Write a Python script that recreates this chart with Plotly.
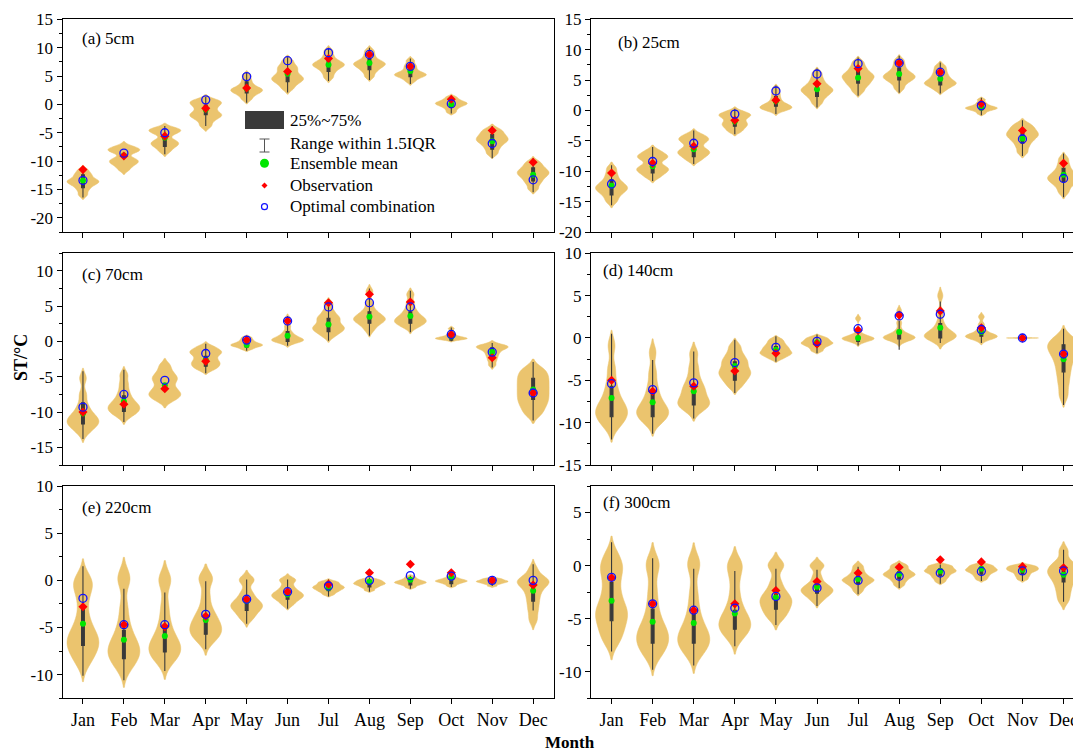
import plotly.graph_objects as go
import numpy as np

# ---------------- data ----------------
months = ["Jan", "Feb", "Mar", "Apr", "May", "Jun", "Jul", "Aug", "Sep", "Oct", "Nov", "Dec"]
month_pos = list(range(1, 13))
panel_titles = ["(a) 5cm", "(b) 25cm", "(c) 70cm", "(d) 140cm", "(e) 220cm", "(f) 300cm"]

# ensemble members (shape of each violin)
samples_a = [
    [-15.95, -15.1, -14.5, -14.1, -13.8, -13.6, -13.4, -13.1, -12.6, -12.2, -11.55],
    [-11.5, -10.8, -10.4, -10.1, -9.8, -9.5, -8.6, -8.2, -8.0, -7.8, -7.4],
    [-8.3, -7.6, -7.2, -6.9, -6.6, -6.2, -5.3, -4.9, -4.6, -4.4, -4.2],
    [-3.8, -2.9, -2.3, -2.0, -1.7, -1.3, -0.7, -0.2, 0.2, 0.5, 0.8],
    [0.85, 1.5, 1.9, 2.2, 2.4, 2.6, 2.8, 3.1, 3.6, 4.3, 5.15],
    [2.75, 3.5, 4.0, 4.3, 4.6, 4.9, 5.3, 5.9, 6.4, 6.9, 7.75],
    [4.7, 5.5, 6.1, 6.5, 6.8, 7.0, 7.2, 7.5, 7.9, 8.6, 9.5],
    [4.9, 5.7, 6.2, 6.6, 6.9, 7.1, 7.3, 7.6, 8.0, 8.7, 9.5],
    [4.05, 4.6, 4.9, 5.1, 5.25, 5.4, 5.6, 6.0, 6.5, 7.0, 7.75],
    [-1.4, -0.9, -0.5, -0.25, -0.05, 0.1, 0.25, 0.4, 0.6, 0.9, 1.3],
    [-8.7, -7.9, -7.3, -6.8, -6.5, -6.2, -5.9, -5.6, -5.2, -4.8, -4.3],
    [-14.9, -14.0, -13.4, -12.9, -12.5, -12.2, -11.9, -11.6, -11.2, -10.7, -10.1],
]
samples_b = [
    [-15.0, -14.2, -13.6, -13.2, -12.9, -12.6, -12.3, -11.9, -11.3, -10.5, -9.5],
    [-11.0, -10.4, -10.0, -9.7, -9.4, -9.0, -8.2, -7.8, -7.5, -7.2, -6.6],
    [-8.2, -7.6, -7.2, -6.9, -6.6, -6.2, -5.5, -5.0, -4.7, -4.4, -3.9],
    [-3.5, -3.0, -2.6, -2.3, -2.0, -1.6, -1.2, -0.9, -0.7, -0.5, -0.1],
    [-0.1, 0.2, 0.35, 0.5, 0.65, 0.85, 1.1, 1.5, 2.1, 2.8, 3.6],
    [1.2, 2.0, 2.5, 2.9, 3.2, 3.45, 3.7, 4.1, 4.6, 5.3, 6.2],
    [3.1, 3.9, 4.4, 4.8, 5.2, 5.5, 5.8, 6.1, 6.6, 7.2, 8.0],
    [3.6, 4.4, 4.9, 5.2, 5.45, 5.7, 5.95, 6.3, 6.8, 7.5, 8.3],
    [3.35, 3.9, 4.2, 4.4, 4.6, 4.85, 5.2, 5.6, 6.1, 6.7, 7.35],
    [-0.5, -0.1, 0.1, 0.25, 0.35, 0.45, 0.55, 0.7, 0.95, 1.3, 1.8],
    [-6.9, -6.0, -5.3, -4.8, -4.4, -4.1, -3.8, -3.5, -3.1, -2.7, -2.2],
    [-13.5, -12.6, -12.0, -11.6, -11.3, -11.0, -10.7, -10.3, -9.7, -8.9, -7.9],
]
samples_c = [
    [-12.9, -12.2, -11.8, -11.5, -11.2, -10.9, -10.5, -9.9, -9.0, -7.5, -5.2],
    [-10.6, -10.1, -9.8, -9.5, -9.2, -8.9, -8.5, -7.9, -7.1, -6.0, -4.7],
    [-8.4, -7.9, -7.6, -7.3, -6.9, -6.4, -5.7, -5.3, -4.9, -4.3, -3.4],
    [-4.0, -3.6, -3.3, -3.0, -2.7, -2.3, -1.9, -1.6, -1.4, -1.1, -0.7],
    [-1.1, -0.85, -0.7, -0.6, -0.5, -0.4, -0.3, -0.15, 0.05, 0.3, 0.6],
    [-0.15, 0.0, 0.1, 0.2, 0.3, 0.45, 0.65, 0.95, 1.4, 2.2, 3.25],
    [0.75, 1.3, 1.6, 1.85, 2.1, 2.4, 2.9, 3.3, 3.6, 4.3, 5.35],
    [1.6, 2.3, 2.7, 2.95, 3.15, 3.35, 3.6, 3.95, 4.5, 5.5, 7.1],
    [2.0, 2.4, 2.65, 2.85, 3.05, 3.3, 3.6, 4.0, 4.6, 5.5, 6.7],
    [0.25, 0.32, 0.38, 0.43, 0.48, 0.55, 0.65, 0.8, 1.05, 1.4, 1.85],
    [-3.35, -2.7, -2.2, -1.8, -1.45, -1.15, -0.95, -0.8, -0.7, -0.6, -0.45],
    [-10.3, -9.4, -8.7, -8.1, -7.5, -6.9, -6.3, -5.7, -5.1, -4.5, -3.8],
]
samples_d = [
    [-10.5, -9.8, -9.3, -8.9, -8.5, -8.1, -7.5, -6.6, -5.4, -3.6, -0.9],
    [-10.0, -9.5, -9.1, -8.8, -8.5, -8.1, -7.5, -6.7, -5.6, -4.0, -1.7],
    [-8.5, -8.1, -7.8, -7.5, -7.1, -6.5, -6.0, -5.5, -4.6, -3.4, -1.8],
    [-5.75, -5.1, -4.7, -4.3, -4.0, -3.7, -3.2, -2.8, -2.4, -1.8, -0.95],
    [-2.45, -2.15, -1.95, -1.8, -1.65, -1.45, -1.25, -1.05, -0.8, -0.5, -0.15],
    [-1.55, -1.25, -1.0, -0.85, -0.7, -0.6, -0.5, -0.35, -0.2, -0.05, 0.15],
    [-0.5, -0.3, -0.2, -0.12, -0.05, 0.0, 0.07, 0.2, 0.45, 1.0, 2.3],
    [-0.35, -0.15, -0.05, 0.02, 0.08, 0.15, 0.25, 0.45, 0.9, 1.8, 3.2],
    [-0.3, -0.05, 0.1, 0.2, 0.3, 0.45, 0.7, 1.1, 1.8, 3.0, 5.0],
    [-0.3, -0.05, 0.08, 0.15, 0.22, 0.3, 0.42, 0.65, 1.0, 1.6, 2.5],
    [-0.12, -0.07, -0.04, -0.02, -0.01, 0.0, 0.01, 0.02, 0.04, 0.07, 0.12],
    [-6.8, -5.4, -4.3, -3.4, -2.6, -2.0, -1.5, -1.1, -0.8, -0.4, 0.1],
]
samples_e = [
    [-8.8, -8.0, -7.4, -6.9, -6.5, -6.1, -5.6, -4.9, -3.8, -2.2, -0.8, -0.4, 0.35],
    [-9.3, -8.6, -8.1, -7.7, -7.3, -6.9, -6.4, -5.6, -4.5, -2.8, 0.0, 0.4],
    [-8.6, -8.1, -7.7, -7.3, -7.0, -6.6, -6.1, -5.3, -4.2, -2.6, -0.1, 0.2],
    [-6.5, -6.0, -5.6, -5.3, -5.0, -4.6, -4.1, -3.7, -2.9, -1.6, 0.1, 0.3],
    [-4.1, -3.6, -3.2, -2.9, -2.7, -2.5, -2.2, -1.8, -1.2, -0.1, 0.2],
    [-2.6, -2.2, -1.95, -1.75, -1.6, -1.45, -1.25, -1.0, -0.6, -0.05, 0.15],
    [-1.5, -1.25, -1.1, -0.95, -0.85, -0.75, -0.65, -0.55, -0.4, -0.25, -0.1],
    [-1.05, -0.8, -0.65, -0.52, -0.42, -0.35, -0.27, -0.18, -0.08, 0.02, 0.15],
    [-0.75, -0.55, -0.42, -0.33, -0.26, -0.2, -0.13, -0.05, 0.05, 0.2, 0.4],
    [-0.6, -0.4, -0.28, -0.19, -0.12, -0.07, -0.01, 0.06, 0.15, 0.28, 0.5],
    [-0.6, -0.42, -0.32, -0.24, -0.18, -0.13, -0.08, -0.02, 0.05, 0.13, 0.22],
    [-4.2, -3.2, -2.4, -1.7, -1.1, -0.6, -0.3, -0.1, 0.05, 0.3, 1.2],
]
samples_f = [
    [-7.2, -6.5, -5.8, -5.2, -4.7, -4.3, -3.8, -3.1, -2.2, -1.2, -0.3, 0.1, 1.1],
    [-8.5, -7.9, -7.4, -7.0, -6.6, -6.2, -5.7, -4.9, -3.7, -2.2, -0.1, 0.3],
    [-8.3, -7.8, -7.4, -7.0, -6.7, -6.3, -5.8, -5.0, -3.9, -2.4, 0.0, 0.3],
    [-6.8, -6.3, -5.9, -5.6, -5.3, -4.9, -4.4, -3.7, -2.6, -1.2, -0.05, 0.25],
    [-5.0, -4.5, -4.1, -3.7, -3.4, -3.1, -2.8, -2.3, -1.5, -0.1, 0.2],
    [-3.3, -2.9, -2.65, -2.45, -2.3, -2.15, -1.95, -1.6, -1.0, -0.1, 0.1],
    [-2.4, -2.0, -1.75, -1.55, -1.42, -1.32, -1.2, -1.0, -0.75, -0.4, 0.0],
    [-1.85, -1.5, -1.25, -1.05, -0.92, -0.82, -0.7, -0.55, -0.35, -0.1, 0.1],
    [-1.5, -1.2, -1.0, -0.8, -0.65, -0.55, -0.45, -0.35, -0.2, -0.05, 0.05],
    [-1.3, -1.05, -0.85, -0.68, -0.55, -0.46, -0.37, -0.27, -0.15, -0.02, 0.1],
    [-1.3, -1.05, -0.85, -0.66, -0.52, -0.42, -0.34, -0.25, -0.15, -0.05, 0.03],
    [-3.3, -2.6, -2.0, -1.5, -1.1, -0.8, -0.55, -0.3, 0.0, 0.4, 1.4],
]

# box statistics: 25% / 75% and whisker ends (range within 1.5IQR)
q3_a = [-12.4, -9.1, -5.6, -0.1, 4.0, 5.5, 7.8, 8.1, 6.4, 0.5, -5.3, -11.2]
q1_a = [-14.7, -11.2, -7.4, -1.8, 2.0, 4.0, 5.8, 6.1, 4.9, -0.5, -7.9, -13.5]
lo_a = [-16.4, -12.0, -8.8, -3.8, 0.3, 2.1, 4.1, 4.3, 3.6, -1.6, -9.5, -15.5]
hi_a = [-11.0, -7.0, -3.8, 1.3, 5.6, 8.3, 10.0, 10.0, 8.1, 1.5, -3.8, -9.5]

q3_b = [-11.4, -8.7, -5.9, -1.3, 2.3, 4.2, 6.4, 7.0, 6.1, 1.1, -3.7, -9.5]
q1_b = [-13.9, -10.3, -7.6, -2.6, 0.7, 2.3, 4.5, 5.0, 4.2, 0.1, -5.4, -11.7]
lo_b = [-15.6, -11.6, -8.8, -3.9, -0.6, 0.5, 2.4, 2.9, 2.8, -0.8, -7.5, -14.3]
hi_b = [-9.0, -6.0, -3.3, 0.3, 4.1, 6.9, 8.7, 9.0, 7.9, 2.1, -1.6, -7.1]

q3_c = [-8.7, -7.7, -6.3, -2.1, 0.1, 1.4, 3.3, 4.2, 4.2, 0.9, -0.9, -5.2]
q1_c = [-11.7, -9.9, -7.7, -3.5, -0.8, 0.0, 1.4, 2.6, 2.6, 0.2, -2.1, -8.2]
lo_c = [-13.8, -11.4, -9.1, -4.5, -1.3, -0.6, 0.1, 0.8, 1.3, 0.05, -3.7, -11.2]
hi_c = [-4.2, -4.0, -2.7, -0.3, 0.8, 3.6, 6.0, 7.5, 7.2, 2.0, -0.2, -2.9]

q3_d = [-5.7, -6.3, -5.7, -2.8, -1.0, -0.4, 0.2, 0.9, 1.7, 0.7, 0.05, -0.8]
q1_d = [-9.3, -9.3, -7.9, -5.0, -1.8, -1.0, -0.4, -0.1, 0.0, 0.2, -0.05, -4.0]
lo_d = [-12.0, -11.3, -9.5, -6.5, -2.8, -1.8, -0.9, -1.4, -0.6, -0.6, -0.1, -7.9]
hi_d = [0.5, -2.6, -1.6, -0.2, 0.2, 0.4, 0.8, 2.0, 4.3, 1.5, 0.1, 1.1]

q3_e = [-2.9, -5.3, -5.0, -3.9, -1.8, -1.1, -0.4, 0.0, 0.1, 0.3, 0.1, -0.6]
q1_e = [-6.9, -8.3, -7.6, -5.7, -3.2, -2.0, -1.1, -0.7, -0.5, -0.35, -0.2, -2.2]
lo_e = [-10.1, -10.6, -9.6, -7.3, -4.6, -3.0, -1.7, -1.2, -0.9, -0.7, -0.6, -3.2]
hi_e = [1.5, -0.9, -1.3, -0.1, 0.1, 0.1, 0.1, 0.3, 0.5, 0.5, 0.2, 1.7]

q3_f = [-1.6, -4.1, -4.4, -4.2, -2.7, -1.7, -1.0, -0.55, -0.3, -0.15, -0.2, -0.5]
q1_f = [-5.2, -7.3, -7.3, -6.0, -4.1, -2.6, -1.7, -1.25, -0.95, -0.8, -0.8, -1.55]
lo_f = [-8.1, -9.8, -9.4, -7.6, -5.6, -3.8, -2.7, -2.1, -1.7, -1.45, -1.45, -3.4]
hi_f = [2.2, 0.7, -0.3, -0.5, -0.3, -0.4, -0.1, 0.2, 0.1, 0.1, 0.0, 1.5]

# ensemble mean / observation / optimal combination
mean_a = [-13.4, -9.0, -5.9, -0.9, 2.8, 5.4, 7.0, 7.3, 5.9, 0.0, -6.5, -12.4]
obs_a = [-11.5, -9.1, -5.6, -0.7, 2.9, 5.8, 8.1, 8.8, 6.7, 0.9, -4.6, -10.2]
opt_a = [-13.4, -8.6, -5.0, 0.8, 4.9, 7.7, 9.1, 8.8, 6.7, 0.1, -6.9, -13.3]

mean_b = [-12.4, -9.2, -6.4, -1.8, 1.5, 3.5, 5.4, 6.0, 5.2, 0.5, -4.6, -10.6]
obs_b = [-10.3, -8.7, -5.9, -1.6, 1.7, 4.4, 6.9, 7.8, 6.3, 1.1, -3.3, -8.7]
opt_b = [-12.1, -8.4, -5.4, -0.6, 3.2, 6.0, 7.7, 7.8, 6.3, 0.8, -4.7, -11.2]

mean_c = [-10.2, -8.5, -6.2, -2.6, -0.5, 0.8, 2.4, 3.5, 3.6, 0.7, -1.5, -6.8]
obs_c = [-10.0, -8.9, -6.7, -2.8, 0.2, 2.9, 5.5, 6.7, 5.6, 1.0, -2.3, -7.3]
opt_c = [-9.3, -7.5, -5.5, -1.7, 0.2, 2.9, 4.9, 5.5, 4.9, 1.0, -1.5, -7.3]

mean_d = [-7.1, -7.6, -6.3, -3.3, -1.4, -0.5, 0.0, 0.7, 1.2, 0.7, 0.0, -2.5]
obs_d = [-5.0, -6.3, -5.7, -3.9, -1.8, -0.7, 0.9, 2.7, 3.2, 1.2, 0.0, -1.9]
opt_d = [-5.4, -6.1, -5.3, -2.9, -1.1, -0.4, 1.1, 2.6, 2.8, 1.0, 0.0, -1.9]

mean_e = [-4.6, -6.3, -5.9, -4.2, -2.2, -1.5, -0.8, -0.15, 0.07, 0.3, -0.05, -1.1]
obs_e = [-2.8, -4.7, -4.9, -3.8, -2.0, -1.2, -0.4, 0.8, 1.7, 0.8, 0.0, -0.5]
opt_e = [-1.9, -4.7, -4.7, -3.6, -2.0, -1.2, -0.6, 0.0, 0.5, 0.45, 0.0, 0.0]

mean_f = [-3.3, -5.3, -5.4, -4.5, -3.0, -2.0, -1.25, -0.8, -0.5, -0.3, -0.4, -0.85]
obs_f = [-1.15, -3.6, -4.2, -3.6, -2.35, -1.5, -0.7, -0.15, 0.55, 0.35, -0.1, -0.2]
opt_f = [-1.1, -3.6, -4.2, -4.0, -2.9, -2.1, -1.4, -1.0, -0.7, -0.55, -0.5, -0.5]

yticks_a = [15, 10, 5, 0, -5, -10, -15, -20]
yticks_b = [15, 10, 5, 0, -5, -10, -15, -20]
yticks_c = [10, 5, 0, -5, -10, -15]
yticks_d = [10, 5, 0, -5, -10, -15]
yticks_e = [10, 5, 0, -5, -10]
yticks_f = [5, 0, -5, -10]

panels = [
    (samples_a, q1_a, q3_a, lo_a, hi_a, mean_a, obs_a, opt_a, yticks_a),
    (samples_b, q1_b, q3_b, lo_b, hi_b, mean_b, obs_b, opt_b, yticks_b),
    (samples_c, q1_c, q3_c, lo_c, hi_c, mean_c, obs_c, opt_c, yticks_c),
    (samples_d, q1_d, q3_d, lo_d, hi_d, mean_d, obs_d, opt_d, yticks_d),
    (samples_e, q1_e, q3_e, lo_e, hi_e, mean_e, obs_e, opt_e, yticks_e),
    (samples_f, q1_f, q3_f, lo_f, hi_f, mean_f, obs_f, opt_f, yticks_f),
]

# ---------------- layout geometry ----------------
W, H = 1073, 753
yranges = [[-22.5, 15], [-20, 15], [-17.5, 12.5], [-15, 10], [-12.5, 10], [-12.5, 7.5]]
xdoms = [[62.5 / W, 553.6 / W], [591.0 / W, 1.0]]
xranges = [[0.5, 12.5], [0.5, 12.23]]
ydoms = [[1 - 232.0 / H, 1 - 19.3 / H], [1 - 465.0 / H, 1 - 253.3 / H], [1 - 698.3 / H, 1 - 486.0 / H]]
label_px = [(80, 39), (616, 43), (80, 274), (601, 270), (80, 508), (600.5, 503)]

VCOL = "#EBC46E"
BOXC = "#3A3A3A"
FONT = "Liberation Serif"

fig = go.Figure()
layout = dict(
    width=W, height=H, margin=dict(l=0, r=0, t=0, b=0, autoexpand=False),
    paper_bgcolor="white", plot_bgcolor="white",
    showlegend=False, violinmode="overlay", boxmode="overlay",
    font=dict(family=FONT, size=17, color="black"),
)
annotations = []
shapes = []

for i, (samp, q1, q3, lo, hi, mn, ob, op, ytk) in enumerate(panels):
    row, col = i // 2, i % 2
    sfx = "" if i == 0 else str(i + 1)
    xa, ya = "x" + sfx, "y" + sfx
    for m, s in zip(month_pos, samp):
        bw = 0.33 * float(np.std(s))  # kernel bandwidth (rendering choice)
        fig.add_trace(go.Violin(
            x=[m] * len(s), y=s, xaxis=xa, yaxis=ya, width=0.78,
            spanmode="soft", bandwidth=bw, fillcolor=VCOL, line=dict(color=VCOL, width=0.5),
            points=False, box_visible=False, meanline_visible=False,
            hoverinfo="skip", opacity=1.0,
        ))
    fig.add_trace(go.Box(
        x=month_pos, q1=q1, q3=q3, median=mn, lowerfence=lo, upperfence=hi,
        xaxis=xa, yaxis=ya, width=0.07, whiskerwidth=0,
        fillcolor=BOXC, line=dict(color=BOXC, width=1.1), hoverinfo="skip",
    ))
    fig.add_trace(go.Scatter(x=month_pos, y=mn, mode="markers", xaxis=xa, yaxis=ya,
                             marker=dict(symbol="circle", size=6, color="#00E600", line=dict(width=0))))
    fig.add_trace(go.Scatter(x=month_pos, y=ob, mode="markers", xaxis=xa, yaxis=ya,
                             marker=dict(symbol="diamond", size=7, color="#FF0000", line=dict(width=0))))
    fig.add_trace(go.Scatter(x=month_pos, y=op, mode="markers", xaxis=xa, yaxis=ya,
                             marker=dict(symbol="circle-open", size=8, color="#1010FF", line=dict(width=1.3))))

    lo_r, hi_r = yranges[i]
    minor_vals = [float(v) for v in np.arange(-30, 30, 2.5) if lo_r <= v <= hi_r and v % 5 != 0]
    layout["xaxis" + sfx] = dict(
        domain=xdoms[col], range=xranges[col], anchor=ya, automargin=False,
        tickmode="array", tickvals=month_pos, ticktext=months, ticklabeloverflow="allow",
        showticklabels=(row == 2), ticks="outside", ticklen=5, tickwidth=1, tickcolor="black",
        showline=True, mirror=True, linecolor="black", linewidth=1,
        showgrid=False, zeroline=False, tickfont=dict(family=FONT, size=18),
    )
    layout["yaxis" + sfx] = dict(
        domain=ydoms[row], range=yranges[i], anchor=xa, automargin=False,
        tickmode="array", tickvals=ytk, ticktext=[str(v) for v in ytk], ticklabeloverflow="allow",
        ticks="outside", ticklen=5, tickwidth=1, tickcolor="black",
        minor=dict(tickvals=minor_vals, ticks="outside", ticklen=3, tickcolor="black", tickwidth=1),
        showline=True, mirror=True, linecolor="black", linewidth=1,
        showgrid=False, zeroline=False, tickfont=dict(family=FONT, size=17),
    )
    lx, ly = label_px[i]
    annotations.append(dict(text=panel_titles[i], x=lx / W, y=1 - ly / H, xref="paper", yref="paper",
                            xanchor="left", yanchor="middle", showarrow=False,
                            font=dict(family=FONT, size=17)))

# axis titles
annotations.append(dict(text="<b>ST/°C</b>", x=21 / W, y=1 - 358 / H, xref="paper", yref="paper",
                        xanchor="center", yanchor="middle",
                        textangle=-90, showarrow=False, font=dict(family=FONT, size=18)))
annotations.append(dict(text="<b>Month</b>", x=570 / W, y=1 - 742.5 / H, xref="paper", yref="paper",
                        xanchor="center", yanchor="middle",
                        showarrow=False, font=dict(family=FONT, size=17)))

# legend (drawn inside panel a)
def px(x):
    return x / W

def py(y):
    return 1 - y / H

shapes.append(dict(type="rect", xref="paper", yref="paper", x0=px(245), x1=px(284), y0=py(129), y1=py(111),
                   fillcolor=BOXC, line=dict(width=0)))
wc = "#555555"
shapes.append(dict(type="line", xref="paper", yref="paper", x0=px(264.5), x1=px(264.5), y0=py(152), y1=py(139),
                   line=dict(color=wc, width=1)))
shapes.append(dict(type="line", xref="paper", yref="paper", x0=px(259.5), x1=px(269.5), y0=py(139), y1=py(139),
                   line=dict(color=wc, width=1)))
shapes.append(dict(type="line", xref="paper", yref="paper", x0=px(259.5), x1=px(269.5), y0=py(152), y1=py(152),
                   line=dict(color=wc, width=1)))
shapes.append(dict(type="circle", xref="paper", yref="paper", x0=px(260), x1=px(269), y0=py(167.8), y1=py(158.8),
                   fillcolor="#00E600", line=dict(width=0)))
shapes.append(dict(type="path", xref="paper", yref="paper",
                   path=f"M {px(264.5)} {py(182.5)} L {px(267.5)} {py(185.5)} L {px(264.5)} {py(188.5)} L {px(261.5)} {py(185.5)} Z",
                   fillcolor="#FF0000", line=dict(width=0)))
shapes.append(dict(type="circle", xref="paper", yref="paper", x0=px(261.5), x1=px(267.5), y0=py(209.7), y1=py(203.7),
                   fillcolor="rgba(0,0,0,0)", line=dict(color="#1010FF", width=1.2)))
legend_items = ["25%~75%", "Range within 1.5IQR", "Ensemble mean", "Observation", "Optimal combination"]
legend_y = [121, 143, 163.5, 185.5, 207]
for t, yy in zip(legend_items, legend_y):
    annotations.append(dict(text=t, x=px(288), y=py(yy), xref="paper", yref="paper",
                            xanchor="left", yanchor="middle", showarrow=False,
                            font=dict(family=FONT, size=17)))

layout["annotations"] = annotations
layout["shapes"] = shapes
fig.update_layout(**layout)
fig.write_html(
    "out.html",
    config={"displayModeBar": False},
    post_script="document.body.style.margin='0';document.body.style.padding='0';document.body.style.overflow='hidden';",
)
